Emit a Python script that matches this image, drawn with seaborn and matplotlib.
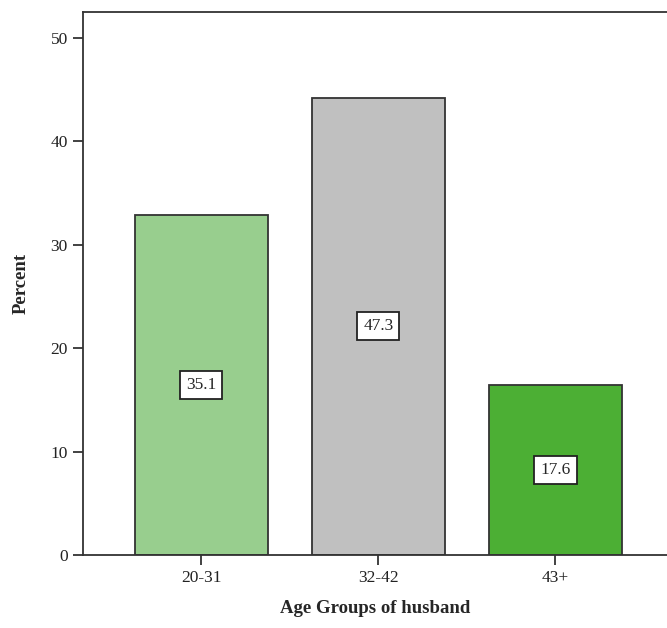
import pandas as pd
import seaborn as sns
import matplotlib.pyplot as plt

# values
AGE_GROUPS = ['20-31', '32-42', '43+']
BAR_HEIGHTS = [32.9, 44.2, 16.4]
BAR_LABELS = ['35.1', '47.3', '17.6']
BAR_COLORS = ['#98ce8e', '#c0c0c0', '#4caf34']

df = pd.DataFrame({'Age': AGE_GROUPS, 'Percent': BAR_HEIGHTS})

sns.set_style('white')
plt.rcParams['font.family'] = ['Liberation Serif', 'DejaVu Serif']

fig = plt.figure(figsize=(6.67, 6.28), dpi=100)
ax = fig.add_axes([0.1244, 0.1162, 0.8756, 0.8648])

sns.barplot(data=df, x='Age', y='Percent', hue='Age', palette=BAR_COLORS,
            saturation=1, width=0.75, edgecolor='#333333', linewidth=1.3,
            legend=False, ax=ax)

for i, (h, lab) in enumerate(zip(BAR_HEIGHTS, BAR_LABELS)):
    ax.text(i, h / 2, lab, ha='center', va='center', fontsize=12.5,
            bbox=dict(boxstyle='square,pad=0.35', facecolor='white',
                      edgecolor='#222222', linewidth=1.3))

ax.set_xlim(-0.667, 2.63)
ax.set_ylim(0, 52.5)
ax.set_yticks([0, 10, 20, 30, 40, 50])
ax.tick_params(axis='both', direction='out', length=7, width=1.3,
               color='#333333', labelsize=12.5, labelcolor='#222222', pad=4)
ax.tick_params(axis='y', left=True)
ax.tick_params(axis='x', bottom=True)

for side in ['left', 'top', 'bottom']:
    ax.spines[side].set_visible(True)
    ax.spines[side].set_color('#333333')
    ax.spines[side].set_linewidth(1.3)
ax.spines['right'].set_visible(False)

ax.set_xlabel('Age Groups of husband', fontsize=13.5, fontweight='bold', labelpad=10)
ax.set_ylabel('Percent', fontsize=13.5, fontweight='bold', labelpad=15)

fig.savefig('out.png', dpi=100)
